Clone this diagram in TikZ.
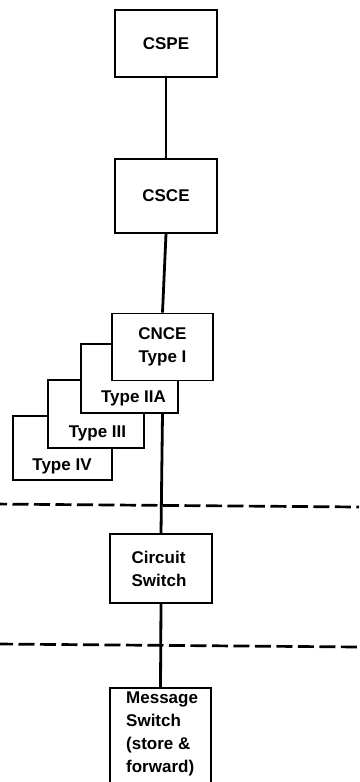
\documentclass[tikz,border=0pt]{standalone}
\usepackage{fontspec}
\setmainfont{Liberation Sans}
\begin{document}
\begin{tikzpicture}[x=1pt,y=-1pt,
  box/.style={draw=black,line width=1.8pt,fill=white,rectangle,inner sep=0pt,
    font=\fontsize{17}{23}\selectfont\bfseries,align=center},
  lbl/.style={inner sep=0pt,font=\fontsize{17}{23}\selectfont\bfseries,align=left},
  conn/.style={line width=2.8pt,draw=black},
  dline/.style={line width=2.7pt,draw=black,dash pattern=on 16pt off 5.5pt}]
\useasboundingbox (0,0) rectangle (359,782);
\clip (0,0) rectangle (359,782);
% boxes
\node[box,minimum width=102pt,minimum height=67pt] (cspe) at (166,43.5) {CSPE};
\node[box,minimum width=102pt,minimum height=74pt] (csce) at (166,196) {CSCE};
\node[box,minimum width=99pt,minimum height=64pt] (t4) at (62.5,448) {};
\node[box,minimum width=96pt,minimum height=68pt] (t3) at (96,414) {};
\node[box,minimum width=97pt,minimum height=69pt] (t2) at (129.5,378.5) {};
\node[box,minimum width=101pt,minimum height=67pt] (cnce) at (162.5,347) {CNCE\\Type I};
\node[lbl] (t2l) at (133.5,398) {Type IIA};
\node[lbl] (t3l) at (97.5,433) {Type III};
\node[lbl] (t4l) at (62,466) {Type IV};
\node[box,minimum width=102pt,minimum height=69pt] (circ) at (161,568.5) {};
\node[lbl] (circl) at (159,569) {Circuit\\Switch};
\node[box,minimum width=101pt,minimum height=130pt,anchor=north] (msg) at (160.5,687) {};
\node[lbl,anchor=north west] (msgl) at (126,692) {Message\\Switch\\(store \&\\forward)};
% connectors
\draw[conn] (cspe.south) -- (csce.north);
\draw[conn] (csce.south) -- (cnce.north);
\draw[conn] (cnce.south |- t2.south) -- (circ.north);
\draw[conn] (circ.south) -- (msg.north);
% dashed boundaries
\coordinate (d1l) at (-9,504);
\coordinate (d1r) at (359,507);
\coordinate (d2l) at (-3,644);
\coordinate (d2r) at (359,647);
\draw[dline] (d1l) -- (d1r);
\draw[dline] (d2l) -- (d2r);
\end{tikzpicture}
\end{document}
